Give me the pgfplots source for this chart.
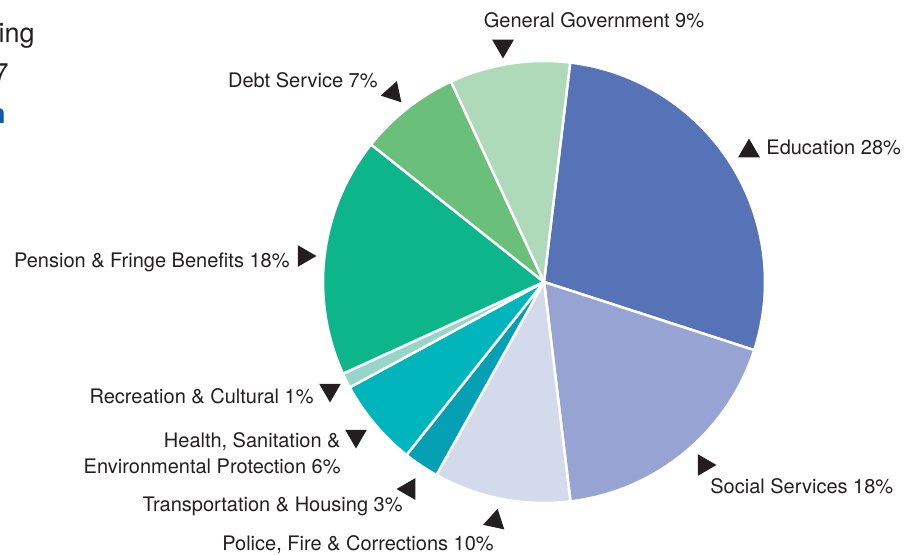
\documentclass[border=0pt]{standalone}
\usepackage{pgfplots}
\pgfplotsset{compat=1.18}
\usepackage{pgfplotstable}
\usetikzlibrary{shapes.geometric}
\usepackage{fontspec}
\setmainfont{TeX Gyre Heros}

\definecolor{txt}{RGB}{35,31,32}
\definecolor{titleblue}{RGB}{14,90,170}
% slice colours, clockwise from the top
\definecolor{slice0}{RGB}{86,115,184}  % Education
\definecolor{slice1}{RGB}{151,164,211} % Social Services
\definecolor{slice2}{RGB}{210,218,235} % Police, Fire & Corrections
\definecolor{slice3}{RGB}{6,160,181}   % Transportation & Housing
\definecolor{slice4}{RGB}{0,181,188}   % Health, Sanitation ...
\definecolor{slice5}{RGB}{150,213,202} % Recreation & Cultural
\definecolor{slice6}{RGB}{13,182,138}  % Pension & Fringe Benefits
\definecolor{slice7}{RGB}{106,191,123} % Debt Service
\definecolor{slice8}{RGB}{174,218,186} % General Government

% shares in percent, same order as the colours
\pgfplotstableread{
share
28.1
18.1
10.0
2.6
6.4
1.1
17.5
7.4
8.8
}\budget

\begin{document}
\begin{tikzpicture}[
  lab/.style={font=\fontsize{10bp}{12bp}\selectfont, text=txt, inner sep=0pt},
  ttl/.style={font=\fontsize{13.5bp}{16bp}\selectfont, text=txt, inner sep=0pt},
  tri/.style={regular polygon, regular polygon sides=3, minimum size=12.5bp,
              inner sep=0pt, fill=txt, draw=none}]
\begin{axis}[hide axis, scale only axis, width=454bp, height=277.5bp,
  xmin=0, xmax=908, ymin=0, ymax=555, y dir=reverse, clip=false]

  % pie wedges from the table
  \pgfmathsetmacro\startang{83.2}
  \pgfplotsforeachungrouped \i in {0,...,8}{%
    \pgfplotstablegetelem{\i}{share}\of\budget
    \pgfmathsetmacro\endang{\startang-3.6*\pgfplotsretval}%
    \edef\temp{\noexpand\fill[slice\i, draw=white, line width=1.25bp, line join=round]
      (axis cs:544,282) -- ++(\startang:110.5bp)
      arc[start angle=\startang, end angle=\endang, radius=110.5bp] -- cycle;}%
    \temp
    \global\let\startang\endang
  }

  % cut-off title at the left
  \node[ttl, anchor=base east] at (axis cs:35,43) {ing};
  \node[ttl, anchor=base east] at (axis cs:9,82) {7};
  \node[ttl, anchor=base east, text=titleblue, font=\fontsize{13.5bp}{16bp}\selectfont\bfseries] at (axis cs:6,123) {n};

  % labels
  \node[lab, anchor=base] at (axis cs:594,28) {General Government 9\%};
  \node[lab, anchor=base east] at (axis cs:378,87) {Debt Service 7\%};
  \node[lab, anchor=base west] at (axis cs:766,154) {Education 28\%};
  \node[lab, anchor=base east] at (axis cs:290,267) {Pension \& Fringe Benefits 18\%};
  \node[lab, anchor=base east] at (axis cs:314,403) {Recreation \& Cultural 1\%};
  \node[lab, anchor=base east] at (axis cs:341,447) {Health, Sanitation \&};
  \node[lab, anchor=base east] at (axis cs:341,473) {Environmental Protection 6\%};
  \node[lab, anchor=base east] at (axis cs:403,511) {Transportation \& Housing 3\%};
  \node[lab, anchor=base] at (axis cs:358,550) {Police, Fire \& Corrections 10\%};
  \node[lab, anchor=base west] at (axis cs:710,493) {Social Services 18\%};

  % pointers
  \node[tri, rotate=180] at (axis cs:503,46) {};
  \node[tri, rotate=-138] at (axis cs:393,93) {};
  \node[tri, rotate=0] at (axis cs:749,151) {};
  \node[tri, rotate=-90] at (axis cs:304,256) {};
  \node[tri, rotate=180] at (axis cs:330,390) {};
  \node[tri, rotate=180] at (axis cs:356,436) {};
  \node[tri, rotate=-30] at (axis cs:409,489) {};
  \node[tri, rotate=-12] at (axis cs:495,521) {};
  \node[tri, rotate=-90] at (axis cs:704,465) {};
\end{axis}
\pgfresetboundingbox
\useasboundingbox (current axis.south west) rectangle (current axis.north east);
\end{tikzpicture}
\end{document}
